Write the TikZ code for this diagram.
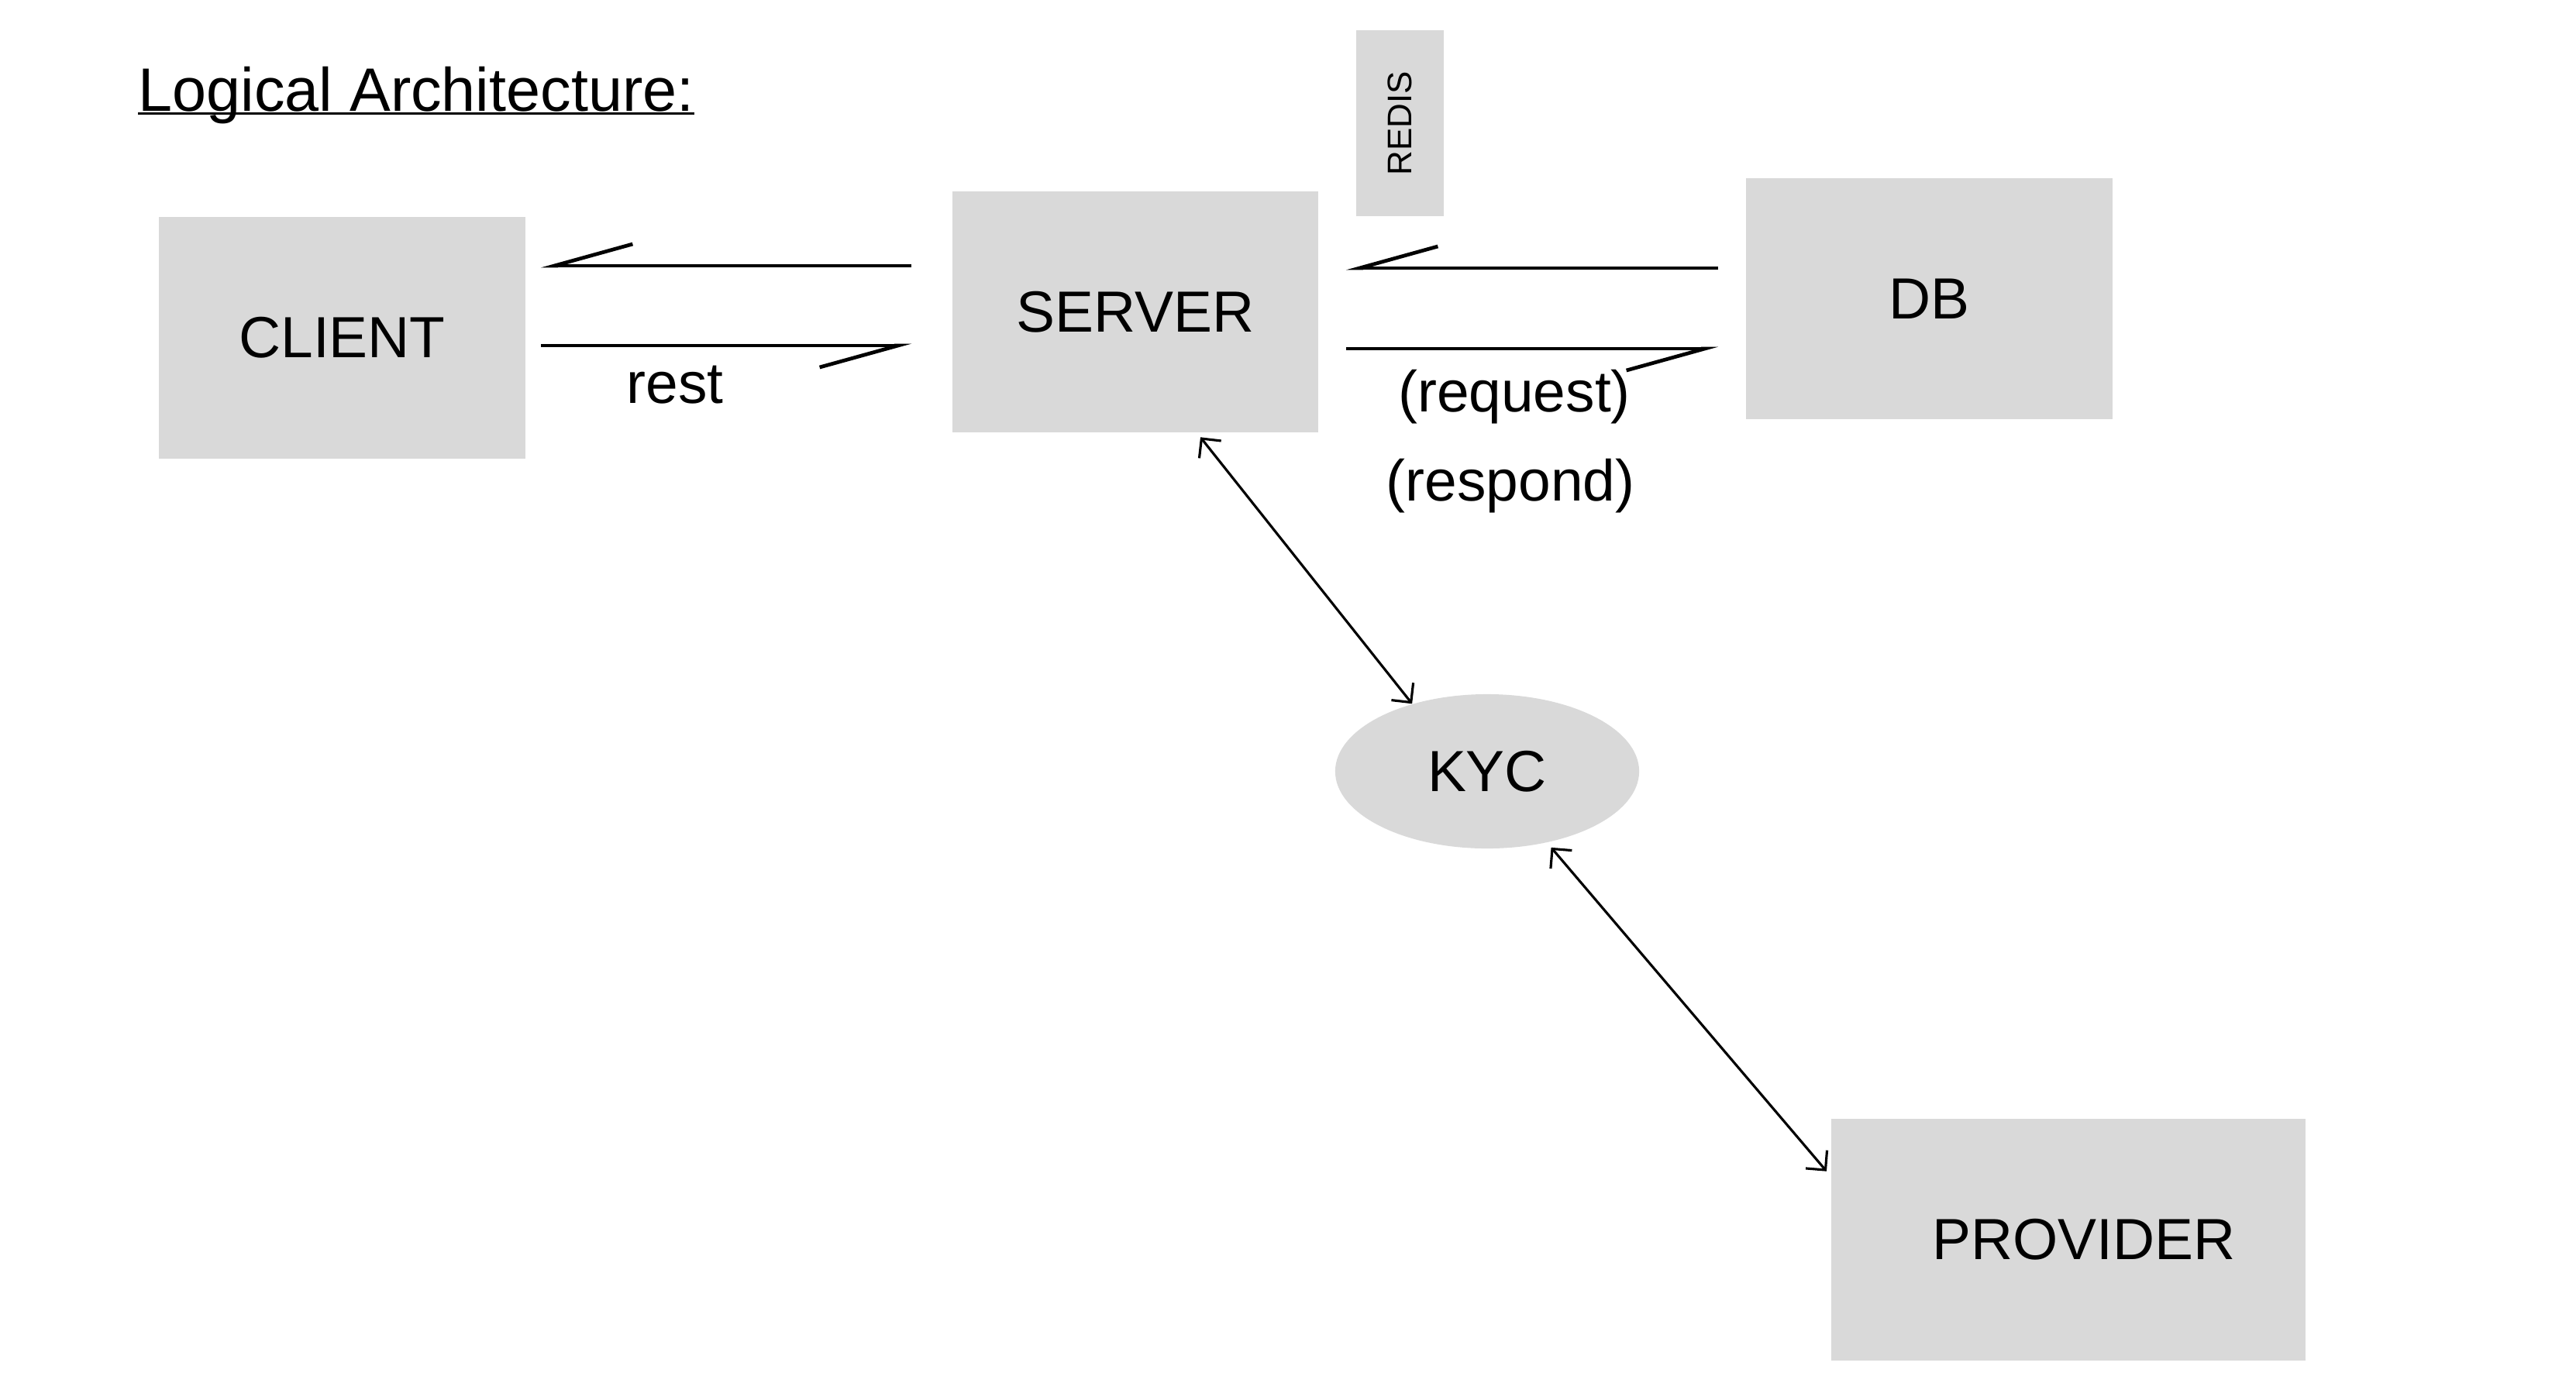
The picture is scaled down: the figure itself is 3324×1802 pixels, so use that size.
\documentclass[tikz,border=0pt]{standalone}
\usepackage{fontspec}
\setmainfont{Liberation Sans}
\usetikzlibrary{arrows.meta}
\usetikzlibrary{shapes.geometric}
\definecolor{boksgraa}{HTML}{D9D9D9}

\begin{document}
\begin{tikzpicture}[%
x=0.01cm, y=-0.01cm,
boks/.style={fill=boksgraa,inner sep=0pt,font=\fontsize{21.3}{25}\selectfont},
merke/.style={inner sep=0pt,anchor=base,font=\fontsize{21.3}{25}\selectfont},
halvpil/.style={line width=1.35pt,-{Straight Barb[right,length=1.01cm,width=0.56cm]}},
dobbelpil/.style={line width=0.9pt,{Straight Barb[length=0.18cm,width=0.36cm]}-{Straight Barb[length=0.18cm,width=0.36cm]}},
understrek/.style={line width=0.65pt}]
\useasboundingbox (0,0) rectangle (3324,1802);
\node [inner sep=0pt,anchor=base west,font=\fontsize{22.5}{27}\selectfont] (tittel) at (178,143) {Logical Architecture:};
\draw [understrek] ([yshift=-1pt]tittel.base west) -- ([yshift=-1pt]tittel.base east);
\node [boks,minimum width=4.73cm,minimum height=3.12cm] (client) at (441.5,436) {CLIENT};
\node [boks,minimum width=4.72cm,minimum height=3.11cm] (server) at (1465,402.5) {SERVER};
\node [boks,minimum width=4.73cm,minimum height=3.11cm] (db) at (2489.5,385.5) {DB};
\node [boks,rotate=90,minimum width=2.4cm,minimum height=1.13cm,font=\fontsize{12.5}{15}\selectfont] (redis) at (1806.5,159) {REDIS};
\node [boks,ellipse,minimum width=3.92cm,minimum height=1.99cm] (kyc) at (1919,995.5) {KYC};
\node [boks,minimum width=6.12cm,minimum height=3.12cm] (provider) at (2669,1600) {\hspace*{0.4cm}PROVIDER};
\draw [halvpil,shorten <=0.52cm,shorten >=0.19cm] (server.west |- 0,343) -- (client.east |- 0,343);
\draw [halvpil,shorten <=0.19cm,shorten >=0.52cm] (client.east |- 0,446) -- (server.west |- 0,446);
\draw [halvpil,shorten <=0.35cm,shorten >=0.35cm] (db.west |- 0,346) -- (server.east |- 0,346);
\draw [halvpil,shorten <=0.35cm,shorten >=0.35cm] (server.east |- 0,450) -- (db.west |- 0,450);
\node [merke] (rest) at (871,520) {rest};
\node [merke] (request) at (1954,531) {(request)};
\node [merke] (respond) at (1949,646) {(respond)};
\draw [dobbelpil,shorten <=0.07cm] (server.-63) -- (kyc.138);
\draw [dobbelpil,shorten <=0.08cm,shorten >=0.08cm] (kyc.-50) -- (provider.165);
\end{tikzpicture}
\end{document}
